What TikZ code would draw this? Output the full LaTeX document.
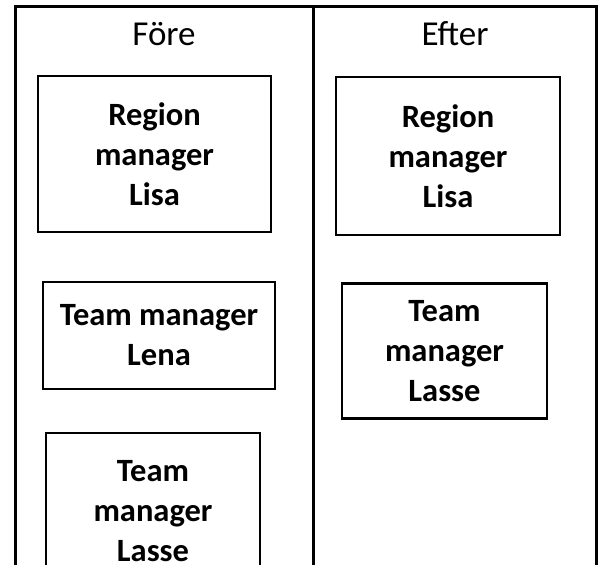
\documentclass[tikz,border=0pt]{standalone}
\usepackage{fontspec}
\setmainfont{Carlito}
\usepackage{tikz}

\tikzset{
  mgr/.style={draw, line width=2.5pt, align=center, inner sep=0pt,
    font=\fontsize{32.5}{40}\selectfont\bfseries},
  head/.style={anchor=base, font=\fontsize{35}{40}\selectfont},
  rule/.style={line width=3pt},
}

\begin{document}
\begin{tikzpicture}[x=1pt,y=-1pt]
    \useasboundingbox (0,0) rectangle (601,564);
    \clip (0,0) rectangle (601,564);

    \draw[rule] (15,600) -- (15,7) -- (596,7) -- (596,600);
    \draw[rule] (313,7) -- (313,600);

    \node[head] (H1) at (164,46) {Före};
    \node[head] (H2) at (455,46) {Efter};

    \node[mgr, minimum width=233pt, minimum height=156pt] (F1) at (154.5,154) {Region\\manager\\Lisa};
    \node[mgr, minimum width=232pt, minimum height=107pt] (F2) at (159,335.5) {Team manager\\Lena};
    \node[mgr, minimum width=214pt, minimum height=156pt] (F3) at (153,511) {Team\\manager\\Lasse};

    \node[mgr, minimum width=224pt, minimum height=158pt] (E1) at (448,156) {Region\\manager\\Lisa};
    \node[mgr, minimum width=205pt, minimum height=135pt] (E2) at (444.5,351) {Team\\manager\\Lasse};

\end{tikzpicture}
\end{document}
